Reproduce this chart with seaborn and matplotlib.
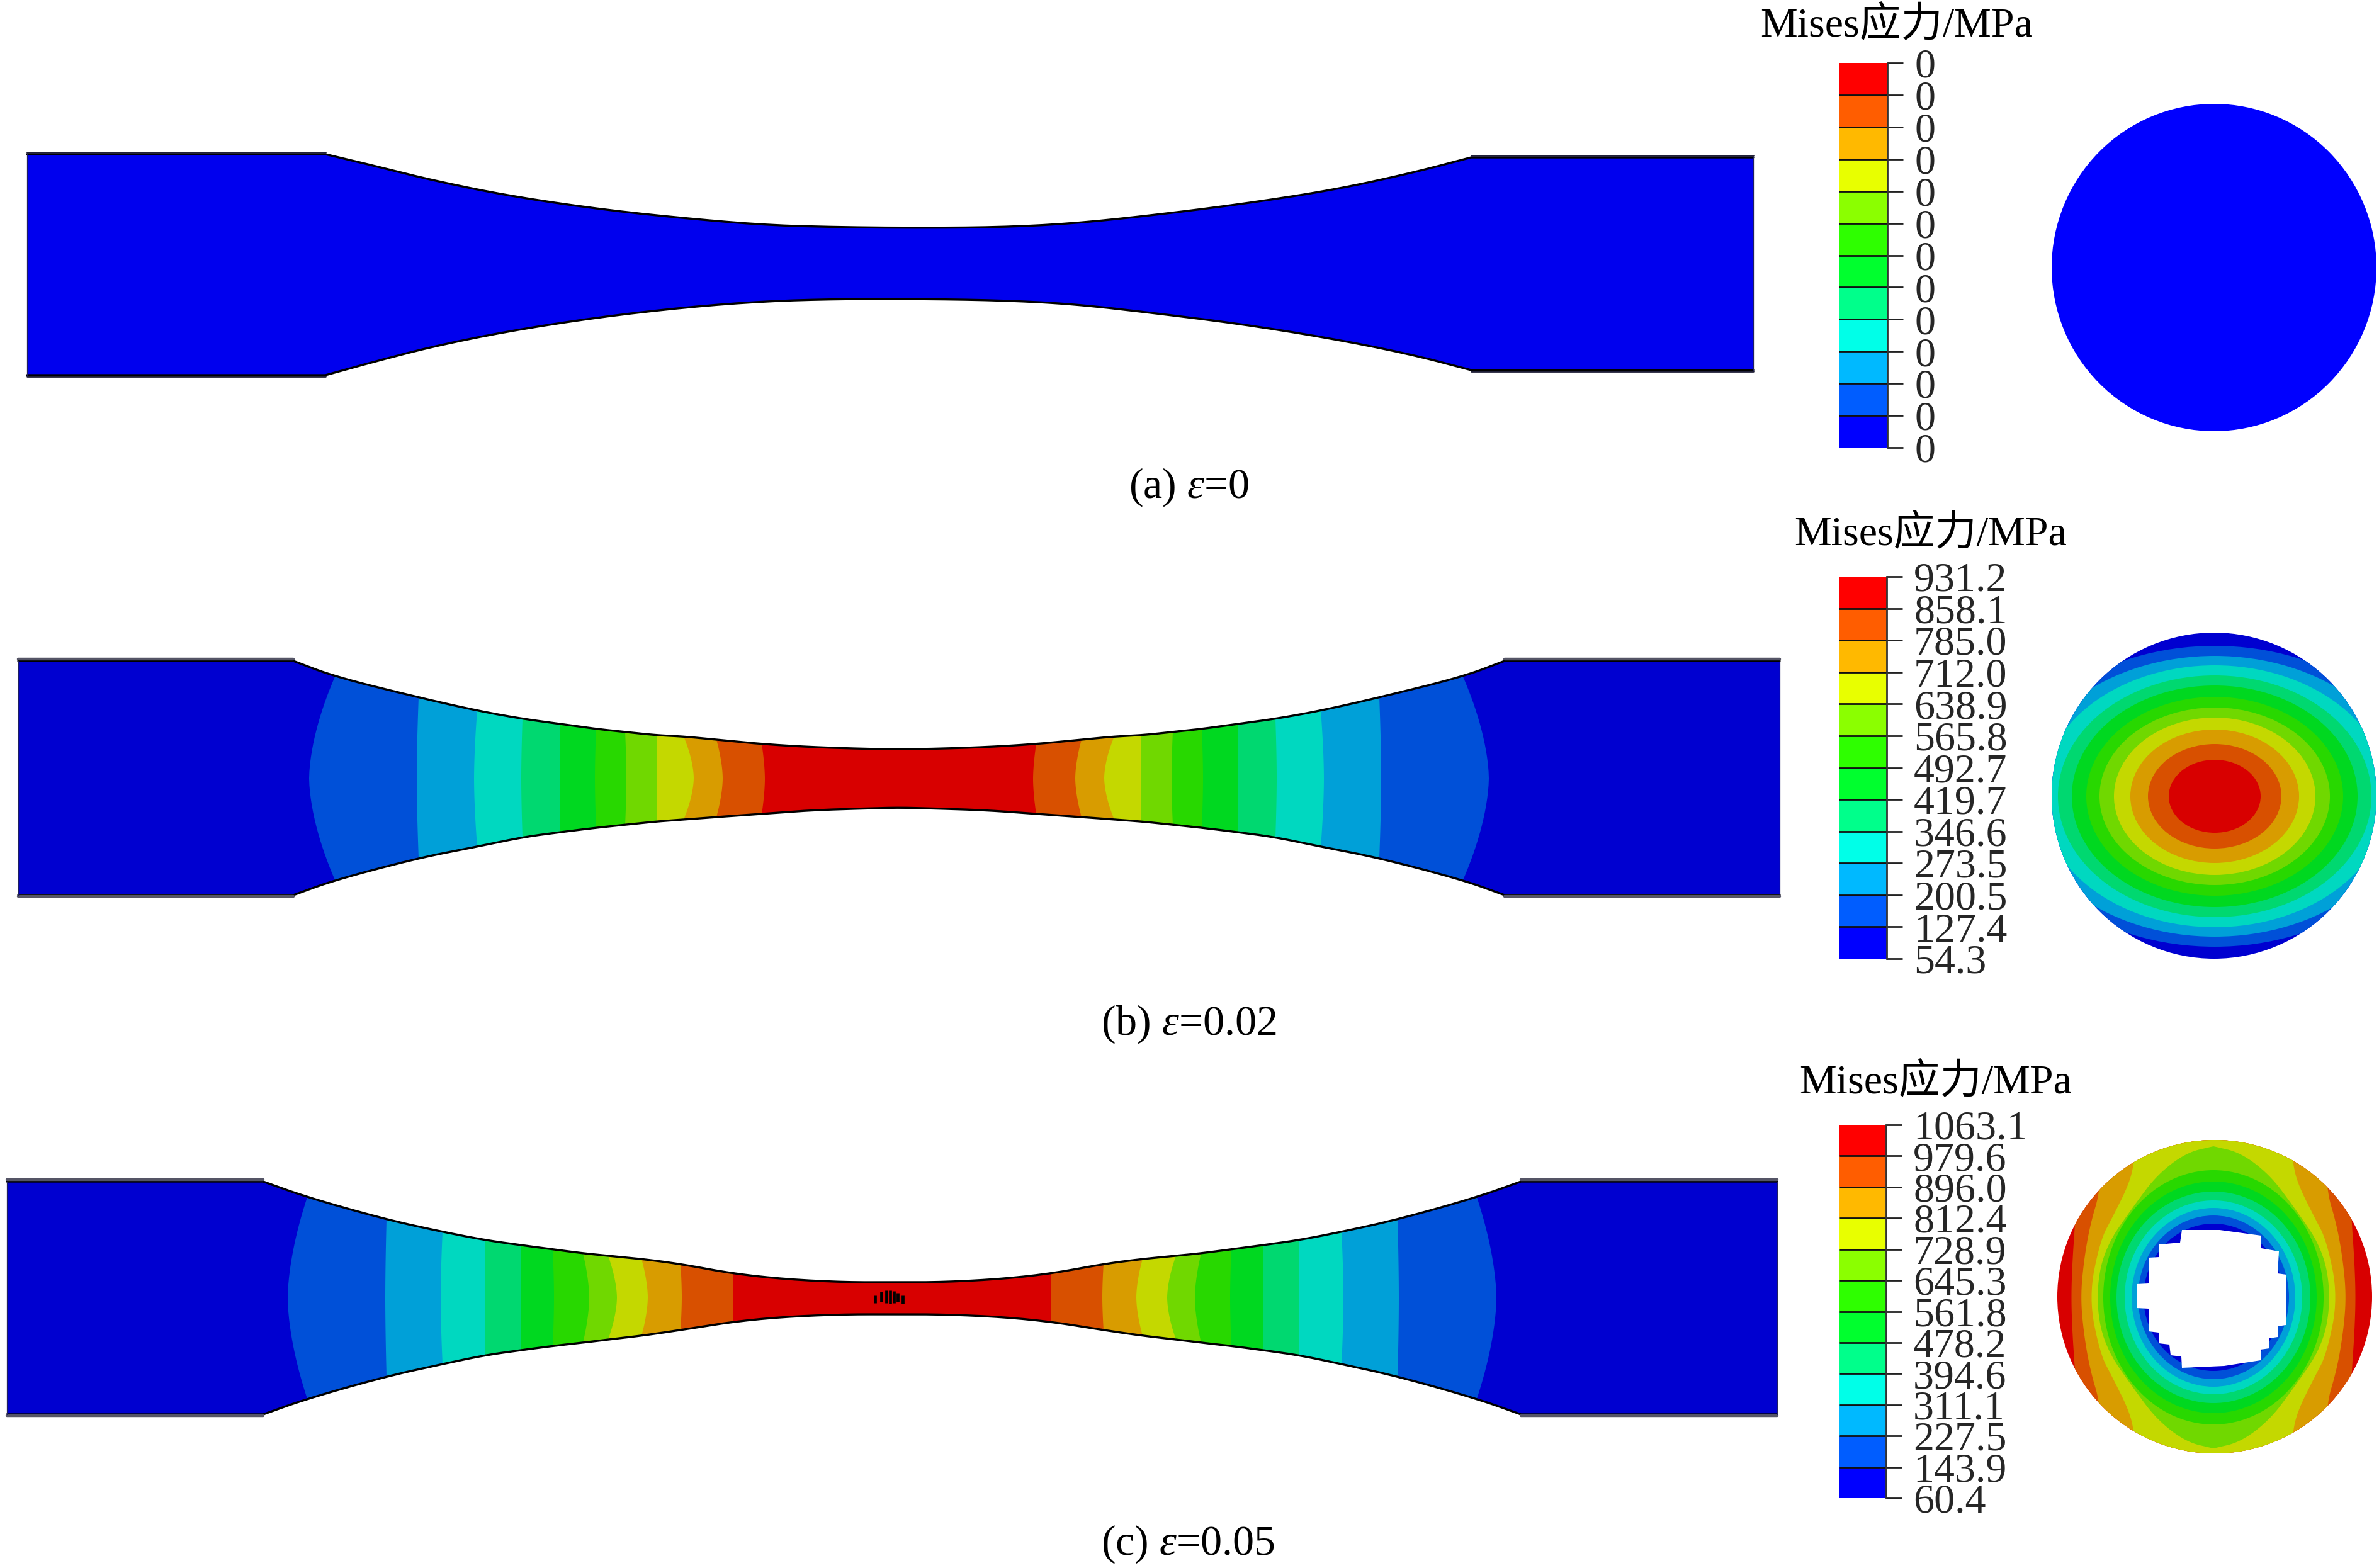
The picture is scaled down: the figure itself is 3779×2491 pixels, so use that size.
import matplotlib
matplotlib.use("Agg")
import matplotlib.pyplot as plt
import numpy as np
import seaborn as sns
from matplotlib.colors import ListedColormap
from matplotlib.patches import Ellipse, Polygon

W, H = 3780, 2491

# contour colours, lowest band first
LEGEND_COLORS = ["#0000ff", "#005dff", "#00b9ff", "#00ffe8", "#00ff8b", "#00ff2e",
                 "#2eff00", "#8bff00", "#e8ff00", "#ffb900", "#ff5d00", "#ff0000"]
SHADED_COLORS = ["#0000d0", "#0050d8", "#00a0d8", "#00d8c0", "#00d870", "#00d820",
                 "#28d800", "#70d800", "#c4d800", "#d89c00", "#d85000", "#d80000"]

TITLE = "Mises应力/MPa"
LABELS_A = ["0"] * 13
LABELS_B = ["931.2", "858.1", "785.0", "712.0", "638.9", "565.8", "492.7",
            "419.7", "346.6", "273.5", "200.5", "127.4", "54.3"]
LABELS_C = ["1063.1", "979.6", "896.0", "812.4", "728.9", "645.3", "561.8",
            "478.2", "394.6", "311.1", "227.5", "143.9", "60.4"]
CAPTIONS = ["(a) $ε$=0", "(b) $ε$=0.02", "(c) $ε$=0.05"]

# specimen (a): outline
A_X = [43, 517, 593, 689, 813, 957, 1100, 1224, 1339, 1460, 1591, 1706, 1830, 1974, 2117, 2242, 2337, 2785]
A_TOP = [245, 245, 263, 287, 312, 333, 348, 358, 361, 362, 361, 355, 342, 324, 302, 275, 250, 250]
A_BOT = [596, 596, 575, 550, 525, 503, 487, 478, 475, 475, 477, 483, 497, 515, 538, 563, 588, 588]

# specimen (b): half profile, distance from the neck
B_DIST = [1399, 962, 896, 763, 670, 598, 538, 481, 433, 385, 342, 290, 218, 137, 41, 0]
B_TOP = [1050, 1050, 1075, 1108, 1129, 1142, 1150, 1158, 1163, 1168, 1170, 1175, 1182, 1187, 1190, 1190]
B_BOT = [1422, 1422, 1398, 1363, 1345, 1330, 1322, 1315, 1310, 1305, 1302, 1298, 1293, 1287, 1284, 1283]
B_BAND_MID = [937, 766, 675, 600, 538, 483, 433, 385, 326, 280, 213]
B_BAND_EDGE = [896, 763, 670, 598, 538, 481, 435, 385, 342, 290, 218]

# specimen (c)
C_DIST = [1406, 999, 929, 805, 714, 647, 590, 537, 491, 451, 398, 336, 255, 173, 78, 0]
C_TOP = [1877, 1877, 1902, 1937, 1957, 1970, 1978, 1985, 1991, 1995, 2000, 2008, 2023, 2032, 2037, 2037]
C_BOT = [2247, 2247, 2222, 2187, 2167, 2153, 2145, 2138, 2133, 2128, 2122, 2113, 2100, 2092, 2088, 2088]
C_BAND_MID = [960, 805, 717, 647, 590, 537, 481, 437, 388, 334, 253]
C_BAND_EDGE = [929, 803, 714, 647, 590, 539, 491, 451, 398, 336, 253]
C_BLOB_X = [1390, 1400, 1408, 1414, 1420, 1426, 1434]
C_BLOB_TOP = [2058, 2052, 2050, 2050, 2051, 2054, 2058]
C_BLOB_BOT = [2070, 2068, 2070, 2071, 2070, 2068, 2071]

# section (b): nested ellipses, half width and half height
B_RING_HW = [333, 306, 276, 249, 227, 204, 183, 160, 134, 106, 73]
B_RING_HH = [239, 223, 208, 192, 176, 158, 141, 125, 106, 83, 58]

# section (c): outer contours as half width against distance from the middle
C_SIDE_DY = [[0, 57, 115, 153, 268],
             [0, 57, 115, 172, 268],
             [0, 90, 128, 178, 212, 268],
             [0, 77, 149, 195, 230, 240]]
C_SIDE_HW = [[226, 224, 220, 218, 218],
             [211, 206, 196, 179, 178],
             [198, 180, 160, 135, 126, 122],
             [187, 174, 124, 89, 43, 0]]
C_RING_HW = [175, 164, 154, 141, 130, 120, 111]
C_RING_HH = [202, 184, 168, 154, 142, 130, 117]
C_HOLE_X = [3466, 3526, 3592, 3592, 3620, 3618, 3632, 3631, 3618, 3618, 3605, 3605, 3591, 3591, 3533,
            3466, 3465, 3448, 3446, 3429, 3429, 3413, 3413, 3394, 3394, 3413, 3413, 3430, 3430, 3463]
C_HOLE_Y = [1954, 1954, 1963, 1983, 1988, 2023, 2025, 2105, 2107, 2124, 2126, 2142, 2144, 2161, 2170,
            2173, 2155, 2153, 2136, 2134, 2117, 2115, 2079, 2078, 2040, 2039, 1998, 1997, 1977, 1974]

sns.set_theme(style="white")
plt.rcParams["font.family"] = ["Liberation Serif", "Noto Sans CJK SC"]
plt.rcParams["mathtext.fontset"] = "custom"
plt.rcParams["mathtext.rm"] = "Liberation Serif"
plt.rcParams["mathtext.it"] = "Liberation Serif:italic"

fig = plt.figure(figsize=(W / 100, H / 100), dpi=100, facecolor="white")
ax = fig.add_axes([0, 0, 1, 1])
ax.set_xlim(0, W)
ax.set_ylim(H, 0)
ax.axis("off")


def mirrored(cx, dist, values):
    x = [cx - d for d in dist] + [cx + d for d in dist[-2::-1]]
    return x, list(values) + list(values[-2::-1])


def round_off(pts, rounds=3):
    # corner cutting so the read-off knots do not show as facets
    pts = np.asarray(pts, dtype=float)
    for _ in range(rounds):
        q = 0.75 * pts[:-1] + 0.25 * pts[1:]
        r = 0.25 * pts[:-1] + 0.75 * pts[1:]
        mid = np.empty((2 * len(q), 2))
        mid[0::2], mid[1::2] = q, r
        pts = np.r_[pts[:1], mid, pts[-1:]]
    return pts


def profile(x, y):
    # grip ends stay straight, only the curved gauge part is rounded
    pts = np.c_[x, y]
    return np.r_[pts[:1], round_off(pts[1:-1]), pts[-1:]]


def edge_line(x, y, color="black", lw=2.4):
    sns.lineplot(x=x, y=y, sort=False, estimator=None, color=color, linewidth=lw, ax=ax, legend=False, zorder=5)


def draw_outline(x, top, bot, base_color, flat_color, flat_lw):
    upper, lower = profile(x, top), profile(x, bot)
    patch = Polygon(np.r_[upper, lower[::-1]], closed=True, facecolor=base_color, edgecolor="none")
    ax.add_patch(patch)
    edge_line(upper[:, 0], upper[:, 1])
    edge_line(lower[:, 0], lower[:, 1])
    # flat grip edges look greyer, end faces are only faintly dark
    edge_line(x[:2], [top[0] - 3, top[0] - 3], flat_color, flat_lw)
    edge_line(x[-2:], [top[-1] - 3, top[-1] - 3], flat_color, flat_lw)
    edge_line(x[:2], [bot[0] + 2, bot[0] + 2], flat_color, flat_lw)
    edge_line(x[-2:], [bot[-1] + 2, bot[-1] + 2], flat_color, flat_lw)
    edge_line([x[0], x[0]], [top[0], bot[0]], "#202060", 0.9)
    edge_line([x[-1], x[-1]], [top[-1], bot[-1]], "#202060", 0.9)
    return patch


def draw_bands(cx, dist, top, bot, mid_d, edge_d, outline):
    d_up = dist[::-1]
    t_up, b_up = top[::-1], bot[::-1]
    t = np.linspace(-1.35, 1.35, 41)
    for k, (dm, de) in enumerate(zip(mid_d, edge_d)):
        ytop = np.interp(de, d_up, t_up)
        ybot = np.interp(de, d_up, b_up)
        ym, half = (ytop + ybot) / 2, (ybot - ytop) / 2
        d = dm + (de - dm) * np.abs(t) ** 1.7
        y = ym + half * t
        pts = np.r_[np.c_[cx - d, y], np.c_[(cx + d)[::-1], y[::-1]]]
        band = Polygon(pts, closed=True, facecolor=SHADED_COLORS[k + 1], edgecolor="none", zorder=2)
        ax.add_patch(band)
        band.set_clip_path(outline)


def draw_legend(x0, y0, x1, y1, labels):
    cax = fig.add_axes([x0 / W, 1 - y1 / H, (x1 - x0) / W, (y1 - y0) / H])
    cells = np.arange(12)[::-1].reshape(-1, 1)
    sns.heatmap(cells, cmap=ListedColormap(LEGEND_COLORS), cbar=False, ax=cax, vmin=-0.5, vmax=11.5)
    cax.hlines(np.arange(1, 12), 0, 1, colors="#111111", linewidth=2.0)
    cax.set_xticks([])
    cax.set_yticks(np.arange(13))
    cax.set_yticklabels(labels, rotation=0, fontsize=47.5)
    cax.tick_params(axis="y", left=False, right=True, labelleft=False, labelright=True,
                    length=18, width=2.0, color="#222222", pad=13)
    for name, spine in cax.spines.items():
        spine.set_visible(name == "right")
        spine.set_color("#333333")
        spine.set_linewidth(2.0)


def ring_patch(cx, cy, hw, hh, color, clip):
    e = Ellipse((cx, cy), 2 * hw, 2 * hh, facecolor=color, edgecolor="none", zorder=3)
    ax.add_patch(e)
    e.set_clip_path(clip)


# panel (a)
draw_outline(A_X, A_TOP, A_BOT, "#0000ee", "#202038", 2.0)
ax.add_patch(Ellipse((3517, 425), 516, 520, facecolor="#0000ff", edgecolor="none"))

# panel (b)
bx, btop = mirrored(1428, B_DIST, B_TOP)
_, bbot = mirrored(1428, B_DIST, B_BOT)
outline = draw_outline(bx, btop, bbot, SHADED_COLORS[0], "#555566", 3.2)
draw_bands(1428, B_DIST, B_TOP, B_BOT, B_BAND_MID, B_BAND_EDGE, outline)
disc = Ellipse((3517, 1264), 516, 518, facecolor=SHADED_COLORS[0], edgecolor="none", zorder=2)
ax.add_patch(disc)
for k, (hw, hh) in enumerate(zip(B_RING_HW, B_RING_HH)):
    ring_patch(3518, 1265, hw, hh, SHADED_COLORS[k + 1], disc)

# panel (c)
cx_c, ctop = mirrored(1417, C_DIST, C_TOP)
_, cbot = mirrored(1417, C_DIST, C_BOT)
outline = draw_outline(cx_c, ctop, cbot, SHADED_COLORS[0], "#555566", 3.2)
draw_bands(1417, C_DIST, C_TOP, C_BOT, C_BAND_MID, C_BAND_EDGE, outline)
ax.vlines(C_BLOB_X, C_BLOB_TOP, C_BLOB_BOT, colors="black", linewidth=3.4, zorder=6)

disc = Ellipse((3518, 2060), 500, 498, facecolor=SHADED_COLORS[11], edgecolor="none", zorder=2)
ax.add_patch(disc)
for k, (dy, hw) in enumerate(zip(C_SIDE_DY, C_SIDE_HW)):
    dy, hw = np.array(dy), np.array(hw)
    upper = np.c_[3516 + hw, 2061 - dy][::-1]
    lower = np.c_[3516 + hw, 2061 + dy][1:]
    right = round_off(np.r_[upper, lower])
    left = np.c_[2 * 3516 - right[::-1, 0], right[::-1, 1]]
    side = Polygon(np.r_[right, left], closed=True, facecolor=SHADED_COLORS[10 - k], edgecolor="none", zorder=3)
    ax.add_patch(side)
    side.set_clip_path(disc)
for k, (hw, hh) in enumerate(zip(C_RING_HW, C_RING_HH)):
    ring_patch(3516, 2061, hw, hh, SHADED_COLORS[6 - k], disc)
ax.add_patch(Polygon(np.c_[C_HOLE_X, C_HOLE_Y], closed=True, facecolor="white", edgecolor="none", zorder=4))

# legends and text
draw_legend(2921, 100, 2998, 711, LABELS_A)
draw_legend(2921, 916, 2997, 1523, LABELS_B)
draw_legend(2922, 1787, 2996, 2380, LABELS_C)

for x, y, s in [(3013, 40, TITLE), (3067, 848, TITLE), (3075, 1719, TITLE)]:
    ax.text(x, y, s, fontsize=47.5, ha="center", va="center", color="black")
for x, y, s in zip([1889, 1888, 1887], [774, 1627, 2453], CAPTIONS):
    ax.text(x, y, s, fontsize=49, ha="center", va="center", color="black")

fig.savefig("out.png", dpi=100, facecolor="white")
